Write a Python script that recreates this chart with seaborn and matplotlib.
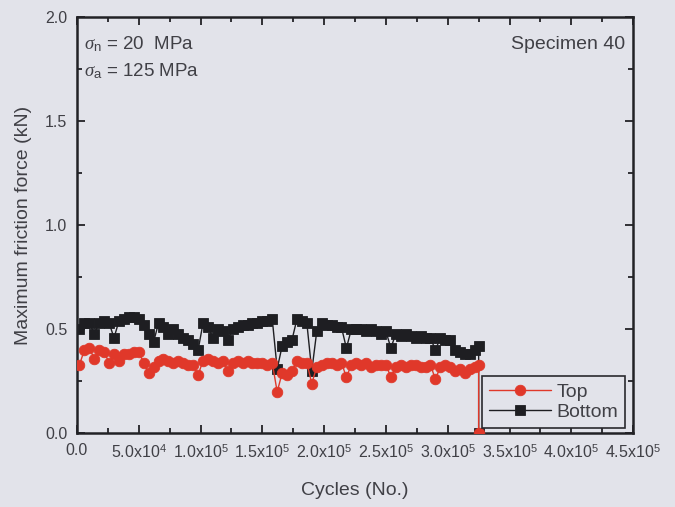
import numpy as np
import pandas as pd
import matplotlib
matplotlib.use("Agg")
import matplotlib.pyplot as plt
from matplotlib.ticker import MultipleLocator, FuncFormatter
import seaborn as sns

# Cycle count (thousands of cycles) at which friction force was logged
cycles_k = [2, 6, 10, 14, 18, 22, 26, 30, 34, 38, 42, 46, 50, 54, 58, 62, 66, 70,
            74, 78, 82, 86, 90, 94, 98, 102, 106, 110, 114, 118, 122, 126, 130, 134,
            138, 142, 146, 150, 154, 158, 162, 166, 170, 174, 178, 182, 186, 190, 194,
            198, 202, 206, 210, 214, 218, 222, 226, 230, 234, 238, 242, 246, 250, 254,
            258, 262, 266, 270, 274, 278, 282, 286, 290, 294, 298, 302, 306, 310, 314,
            318, 322, 325, 325]

# Maximum friction force on the top pad (kN)
top_kn = [0.33, 0.40, 0.41, 0.36, 0.40, 0.39, 0.34, 0.38, 0.35, 0.38, 0.38, 0.39,
          0.39, 0.34, 0.29, 0.32, 0.35, 0.36, 0.35, 0.34, 0.35, 0.34, 0.33, 0.33,
          0.28, 0.35, 0.36, 0.35, 0.34, 0.35, 0.30, 0.34, 0.35, 0.34, 0.35, 0.34,
          0.34, 0.34, 0.33, 0.34, 0.20, 0.29, 0.28, 0.30, 0.35, 0.34, 0.34, 0.24,
          0.32, 0.33, 0.34, 0.34, 0.33, 0.34, 0.27, 0.33, 0.34, 0.33, 0.34, 0.32,
          0.33, 0.33, 0.33, 0.27, 0.32, 0.33, 0.32, 0.33, 0.33, 0.32, 0.32, 0.33,
          0.26, 0.32, 0.33, 0.32, 0.30, 0.31, 0.29, 0.31, 0.32, 0.33, 0.0]

# Maximum friction force on the bottom pad (kN)
bottom_kn = [0.50, 0.53, 0.53, 0.48, 0.53, 0.54, 0.53, 0.46, 0.54, 0.55, 0.56, 0.56,
             0.55, 0.52, 0.48, 0.44, 0.53, 0.51, 0.48, 0.50, 0.48, 0.46, 0.45, 0.43,
             0.40, 0.53, 0.51, 0.46, 0.50, 0.49, 0.45, 0.50, 0.51, 0.52, 0.52, 0.53,
             0.53, 0.54, 0.54, 0.55, 0.31, 0.42, 0.44, 0.45, 0.55, 0.54, 0.53, 0.30,
             0.49, 0.53, 0.52, 0.52, 0.51, 0.51, 0.41, 0.50, 0.50, 0.50, 0.49, 0.50,
             0.49, 0.48, 0.49, 0.41, 0.48, 0.47, 0.48, 0.47, 0.46, 0.47, 0.46, 0.46,
             0.40, 0.46, 0.45, 0.45, 0.40, 0.39, 0.38, 0.38, 0.40, 0.42, 0.0]

series_names = ["Top", "Bottom"]
series_colors = ["#e0382a", "#1e1e22"]
series_markers = ["o", "s"]

BG = "#e2e3ea"
INK = "#404046"

sns.set_theme(style="ticks")
plt.rcParams.update({
    "font.family": ["Liberation Sans", "DejaVu Sans"],
    "mathtext.fontset": "custom",
    "mathtext.rm": "Liberation Sans",
    "mathtext.it": "Liberation Serif:italic",
    "mathtext.bf": "Liberation Sans:bold",
    "text.color": INK,
    "axes.labelcolor": INK,
    "xtick.color": "#222226",
    "ytick.color": "#222226",
    "xtick.labelcolor": INK,
    "ytick.labelcolor": INK,
})

cycles = np.array(cycles_k) * 1000.0
df = pd.DataFrame({
    "Cycles": np.concatenate([cycles, cycles]),
    "Force": np.concatenate([top_kn, bottom_kn]),
    "Pad": [series_names[0]] * len(cycles) + [series_names[1]] * len(cycles),
    "order": np.concatenate([np.arange(len(cycles)), np.arange(len(cycles))]),
})

fig = plt.figure(figsize=(6.75, 5.07), dpi=100, facecolor=BG)
ax = fig.add_axes([0.114, 0.145, 0.824, 0.8215])
ax.set_facecolor(BG)

for name, color, marker in zip(series_names, series_colors, series_markers):
    sub = df[df["Pad"] == name].sort_values("order")
    sns.lineplot(data=sub, x="Cycles", y="Force", ax=ax, estimator=None, sort=False,
                 color=color, marker=marker, markersize=7.6 if marker == "o" else 6.8,
                 markeredgecolor=color, markeredgewidth=0.6, linewidth=1.0,
                 label=name, zorder=3 if name == "Top" else 2)

ax.set_xlim(0, 4.5e5)
ax.set_ylim(0, 2.0)
ax.xaxis.set_major_locator(MultipleLocator(5e4))
ax.xaxis.set_minor_locator(MultipleLocator(2.5e4))
ax.yaxis.set_major_locator(MultipleLocator(0.5))
ax.yaxis.set_minor_locator(MultipleLocator(0.25))


def sci_label(v, pos):
    if v == 0:
        return "0.0"
    exp = int(np.floor(np.log10(abs(v))))
    mant = v / 10 ** exp
    return f"{mant:.1f}x10$^{{{exp}}}$"


ax.xaxis.set_major_formatter(FuncFormatter(sci_label))
ax.yaxis.set_major_formatter(FuncFormatter(lambda v, p: f"{v:.1f}"))

ax.tick_params(which="both", direction="in", top=True, right=True, width=1.3)
ax.tick_params(which="major", length=6, labelsize=11.5, pad=7)
ax.tick_params(which="minor", length=3.5)
for s in ax.spines.values():
    s.set_linewidth(1.8)
    s.set_color("#222226")

ax.set_xlabel("Cycles (No.)", fontsize=14, labelpad=15)
ax.set_ylabel("Maximum friction force (kN)", fontsize=14, labelpad=9)

ax.text(0.012, 0.935, r"$\sigma_{\rm n}$ = 20  MPa", transform=ax.transAxes,
        fontsize=13.5, va="center", ha="left")
ax.text(0.012, 0.87, r"$\sigma_{\rm a}$ = 125 MPa", transform=ax.transAxes,
        fontsize=13.5, va="center", ha="left")
ax.text(0.985, 0.935, "Specimen 40", transform=ax.transAxes,
        fontsize=14, va="center", ha="right")

leg = ax.legend(loc="lower right", bbox_to_anchor=(0.986, 0.013), borderaxespad=0,
                fontsize=14, handlelength=3.2, handletextpad=0.3, labelspacing=0.15,
                borderpad=0.35, fancybox=False, frameon=True, edgecolor="#2a2a2e",
                facecolor=BG, framealpha=1)
leg.get_frame().set_linewidth(1.2)

fig.savefig("out.png", dpi=100, facecolor=BG)
